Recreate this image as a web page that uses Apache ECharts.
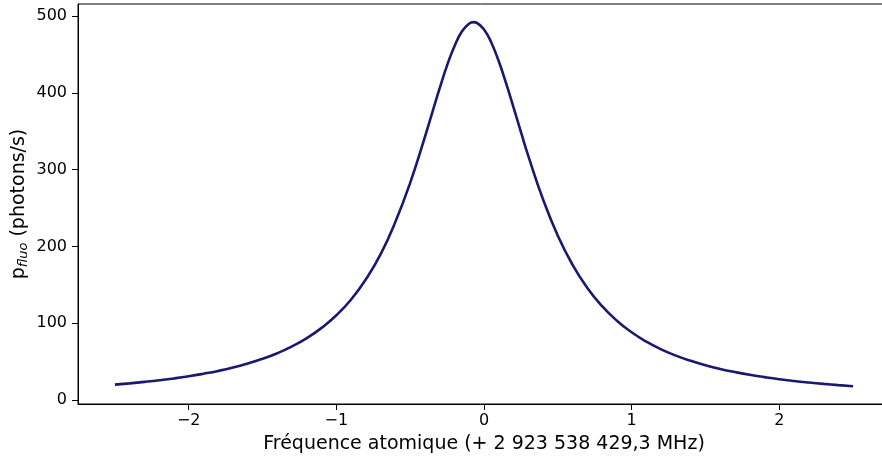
<!DOCTYPE html>
<html>
<head>
<meta charset="utf-8">
<script src="https://cdn.jsdelivr.net/npm/echarts@6/dist/echarts.min.js"></script>
<style>
  html, body { margin: 0; padding: 0; background: #fff; }
  #chart { width: 882px; height: 462px; }
</style>
</head>
<body>
<div id="chart"></div>
<script>
// Raie de fluorescence : valeurs
var frequences = [
  -2.5, -2.4, -2.3, -2.2, -2.1, -2.0, -1.9, -1.8, -1.7, -1.6,
  -1.5, -1.4, -1.3, -1.2, -1.1, -1.0, -0.9, -0.8, -0.7, -0.6,
  -0.5, -0.4, -0.35, -0.3, -0.25, -0.2, -0.15, -0.1, -0.07, -0.05,
  0.0, 0.05, 0.1, 0.15, 0.2, 0.25, 0.3, 0.4, 0.5, 0.6,
  0.7, 0.8, 0.9, 1.0, 1.1, 1.2, 1.3, 1.4, 1.5, 1.6,
  1.7, 1.8, 1.9, 2.0, 2.1, 2.2, 2.3, 2.4, 2.5
];
var photons = [
  20.0, 21.7, 23.6, 25.7, 28.1, 30.9, 34.2, 37.9, 42.3, 47.5,
  53.6, 60.9, 69.8, 80.5, 93.9, 110.3, 130.9, 157.2, 190.0, 232.0,
  282.8, 342.6, 374.5, 406.0, 435.6, 460.7, 479.7, 490.2, 492.0, 491.2,
  482.5, 465.2, 441.0, 412.2, 380.9, 349.0, 317.9, 261.2, 213.9, 176.0,
  145.9, 122.2, 103.3, 88.2, 76.0, 66.0, 57.8, 51.0, 45.3, 40.5,
  36.4, 32.8, 29.8, 27.1, 24.8, 22.8, 21.0, 19.4, 17.9
];
var xTicks = [-2, -1, 0, 1, 2];
var yTicks = [0, 100, 200, 300, 400, 500];

var points = frequences.map(function (f, i) { return [f, photons[i]]; });

var myChart = echarts.init(document.getElementById('chart'));
var font = 'DejaVu Sans';
var option = {
  animation: false,
  grid: {
    // le cadre dépasse à droite de l'image, comme sur la figure d'origine
    left: 78, top: 4, right: -8, bottom: 58,
    outerBoundsMode: 'none',
    show: true, borderColor: '#000', borderWidth: 1, backgroundColor: 'transparent'
  },
  xAxis: {
    type: 'value',
    min: -2.75,
    max: 2.75,
    name: 'Fréquence atomique (+ 2 923 538 429,3 MHz)',
    nameLocation: 'middle',
    nameGap: 31,
    nameMoveOverlap: false,
    nameTextStyle: { color: '#000', fontFamily: font, fontSize: 19 },
    axisLine: { onZero: false, lineStyle: { color: '#000', width: 1 } },
    axisTick: { length: 6, customValues: xTicks, lineStyle: { color: '#000' } },
    axisLabel: {
      customValues: xTicks,
      margin: 9,
      color: '#000', fontFamily: font, fontSize: 16,
      formatter: function (v) { return String(v).replace('-', '\u2212'); }
    },
    splitLine: { show: false }
  },
  yAxis: {
    type: 'value',
    min: -5.2,
    max: 515.6,
    name: '{a|p}{sub|fluo}{a| (photons/s)}',
    nameLocation: 'middle',
    nameRotate: 90,
    nameGap: 47,
    nameMoveOverlap: false,
    nameTextStyle: {
      color: '#000', fontFamily: font, fontSize: 19,
      rich: {
        a: { color: '#000', fontFamily: font, fontSize: 19, lineHeight: 24 },
        sub: { color: '#000', fontFamily: font, fontSize: 13, fontStyle: 'italic', lineHeight: 24, padding: [9, 0, 0, 0] }
      }
    },
    axisLine: { show: true, onZero: false, lineStyle: { color: '#000', width: 1 } },
    axisTick: { show: true, length: 6, customValues: yTicks, lineStyle: { color: '#000' } },
    axisLabel: {
      customValues: yTicks,
      margin: 11,
      color: '#000', fontFamily: font, fontSize: 16
    },
    splitLine: { show: false }
  },
  series: [{
    type: 'line',
    data: points,
    smooth: true,
    showSymbol: false,
    lineStyle: { color: '#191970', width: 2.6 }
  }]
};
myChart.setOption(option);
window.addEventListener('resize', function () { myChart.resize(); });
</script>
</body>
</html>
